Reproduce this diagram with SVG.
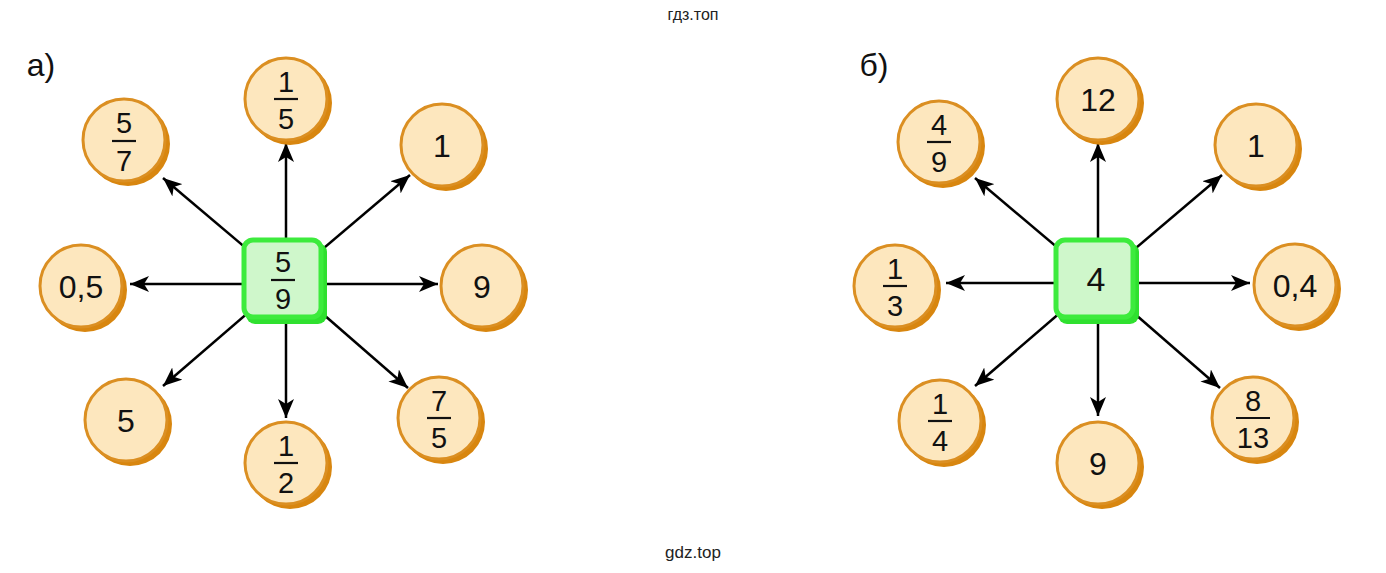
<svg xmlns="http://www.w3.org/2000/svg" width="1386" height="573" viewBox="0 0 1386 573">
<defs>
<style>
text{font-family:"Liberation Sans",Arial,sans-serif;fill:#111;text-anchor:middle}
.wm{font-size:16px;fill:#222}
.lbl{font-size:32px}
.num{font-size:32px}
.fr{font-size:29px}
.sh{fill:#D8860F}
.c{fill:#FDE7BE;stroke:#DB8F22;stroke-width:3}
.bar{stroke:#111;stroke-width:2.2}
.sqsh{fill:#2FE02F}
.sq{fill:#CFF7CB;stroke:#3DEB3D;stroke-width:5}
.ar{stroke:#000;stroke-width:2.5;fill:none;marker-end:url(#ah)}
</style>
<marker id="ah" markerUnits="userSpaceOnUse" markerWidth="20" markerHeight="16" viewBox="0 0 20 16" refX="19" refY="8" orient="auto">
<path d="M0,0 L19,8 L0,16 L5,8 Z" fill="#000"/>
</marker>
</defs>
<rect width="1386" height="573" fill="#fff"/>
<text class="wm" x="693" y="20">гдз.топ</text>
<text class="wm" x="693" y="558" style="font-size:17px">gdz.top</text>
<text class="lbl" x="41" y="76">а)</text>
<text class="lbl" x="874" y="76">б)</text>

<g id="connectors">
<line class="ar" x1="285" y1="281" x2="163" y2="178"/>
<line class="ar" x1="286" y1="281" x2="286" y2="143"/>
<line class="ar" x1="285" y1="281" x2="410" y2="175"/>
<line class="ar" x1="285" y1="284" x2="130" y2="284"/>
<line class="ar" x1="285" y1="284" x2="438" y2="284"/>
<line class="ar" x1="285" y1="281" x2="163" y2="386"/>
<line class="ar" x1="286" y1="281" x2="286" y2="418"/>
<line class="ar" x1="285" y1="281" x2="408" y2="388"/>
<line class="ar" x1="1097" y1="281" x2="975" y2="178"/>
<line class="ar" x1="1098" y1="281" x2="1098" y2="143"/>
<line class="ar" x1="1097" y1="281" x2="1222" y2="175"/>
<line class="ar" x1="1097" y1="283" x2="946" y2="283"/>
<line class="ar" x1="1097" y1="283" x2="1250" y2="283"/>
<line class="ar" x1="1097" y1="281" x2="975" y2="386"/>
<line class="ar" x1="1098" y1="281" x2="1098" y2="416"/>
<line class="ar" x1="1097" y1="281" x2="1220" y2="388"/>
</g>

<g id="a-center">
<rect class="sqsh" x="246" y="243" width="81" height="81" rx="9"/>
<rect class="sq" x="244" y="240" width="77" height="77" rx="9"/>
<text class="fr" x="283" y="272">5</text>
<line class="bar" x1="271" y1="280" x2="295" y2="280"/>
<text class="fr" x="283" y="309">9</text>
</g>

<g id="a-n1"><circle class="sh" cx="128" cy="144" r="42"/><circle class="c" cx="124" cy="140" r="41"/>
<text class="fr" x="124" y="133">5</text><line class="bar" x1="112" y1="141" x2="136" y2="141"/><text class="fr" x="124" y="171">7</text></g>
<g id="a-n2"><circle class="sh" cx="290" cy="103" r="42"/><circle class="c" cx="286" cy="99" r="41"/>
<text class="fr" x="286" y="92">1</text><line class="bar" x1="274" y1="99" x2="298" y2="99"/><text class="fr" x="286" y="129">5</text></g>
<g id="a-n3"><circle class="sh" cx="446" cy="149" r="42"/><circle class="c" cx="442" cy="145" r="41"/>
<text class="num" x="442" y="157">1</text></g>
<g id="a-n4"><circle class="sh" cx="85" cy="290" r="42"/><circle class="c" cx="81" cy="286" r="41"/>
<text class="num" x="81" y="298">0,5</text></g>
<g id="a-n5"><circle class="sh" cx="486" cy="290" r="42"/><circle class="c" cx="482" cy="286" r="41"/>
<text class="num" x="482" y="298">9</text></g>
<g id="a-n6"><circle class="sh" cx="130" cy="424" r="42"/><circle class="c" cx="126" cy="420" r="41"/>
<text class="num" x="126" y="432">5</text></g>
<g id="a-n7"><circle class="sh" cx="290" cy="467" r="42"/><circle class="c" cx="286" cy="463" r="41"/>
<text class="fr" x="286" y="456">1</text><line class="bar" x1="274" y1="463" x2="298" y2="463"/><text class="fr" x="286" y="493">2</text></g>
<g id="a-n8"><circle class="sh" cx="443" cy="422" r="42"/><circle class="c" cx="439" cy="418" r="41"/>
<text class="fr" x="439" y="411">7</text><line class="bar" x1="427" y1="418" x2="451" y2="418"/><text class="fr" x="439" y="448">5</text></g>

<g id="b-center">
<rect class="sqsh" x="1058" y="243" width="81" height="81" rx="9"/>
<rect class="sq" x="1056" y="240" width="77" height="77" rx="9"/>
<text class="num" x="1096" y="291" style="font-size:34px">4</text>
</g>

<g id="b-n1"><circle class="sh" cx="943" cy="146" r="42"/><circle class="c" cx="939" cy="142" r="41"/>
<text class="fr" x="939" y="135">4</text><line class="bar" x1="927" y1="142" x2="951" y2="142"/><text class="fr" x="939" y="172">9</text></g>
<g id="b-n2"><circle class="sh" cx="1102" cy="103" r="42"/><circle class="c" cx="1098" cy="99" r="41"/>
<text class="num" x="1098" y="111">12</text></g>
<g id="b-n3"><circle class="sh" cx="1260" cy="149" r="42"/><circle class="c" cx="1256" cy="145" r="41"/>
<text class="num" x="1256" y="157">1</text></g>
<g id="b-n4"><circle class="sh" cx="899" cy="290" r="42"/><circle class="c" cx="895" cy="286" r="41"/>
<text class="fr" x="895" y="279">1</text><line class="bar" x1="883" y1="286" x2="907" y2="286"/><text class="fr" x="895" y="316">3</text></g>
<g id="b-n5"><circle class="sh" cx="1299" cy="289" r="42"/><circle class="c" cx="1295" cy="285" r="41"/>
<text class="num" x="1295" y="297">0,4</text></g>
<g id="b-n6"><circle class="sh" cx="944" cy="425" r="42"/><circle class="c" cx="940" cy="421" r="41"/>
<text class="fr" x="940" y="414">1</text><line class="bar" x1="928" y1="421" x2="952" y2="421"/><text class="fr" x="940" y="451">4</text></g>
<g id="b-n7"><circle class="sh" cx="1102" cy="467" r="42"/><circle class="c" cx="1098" cy="463" r="41"/>
<text class="num" x="1098" y="475">9</text></g>
<g id="b-n8"><circle class="sh" cx="1257" cy="422" r="42"/><circle class="c" cx="1253" cy="418" r="41"/>
<text class="fr" x="1253" y="411">8</text><line class="bar" x1="1236" y1="418" x2="1270" y2="418"/><text class="fr" x="1253" y="448">13</text></g>
</svg>
